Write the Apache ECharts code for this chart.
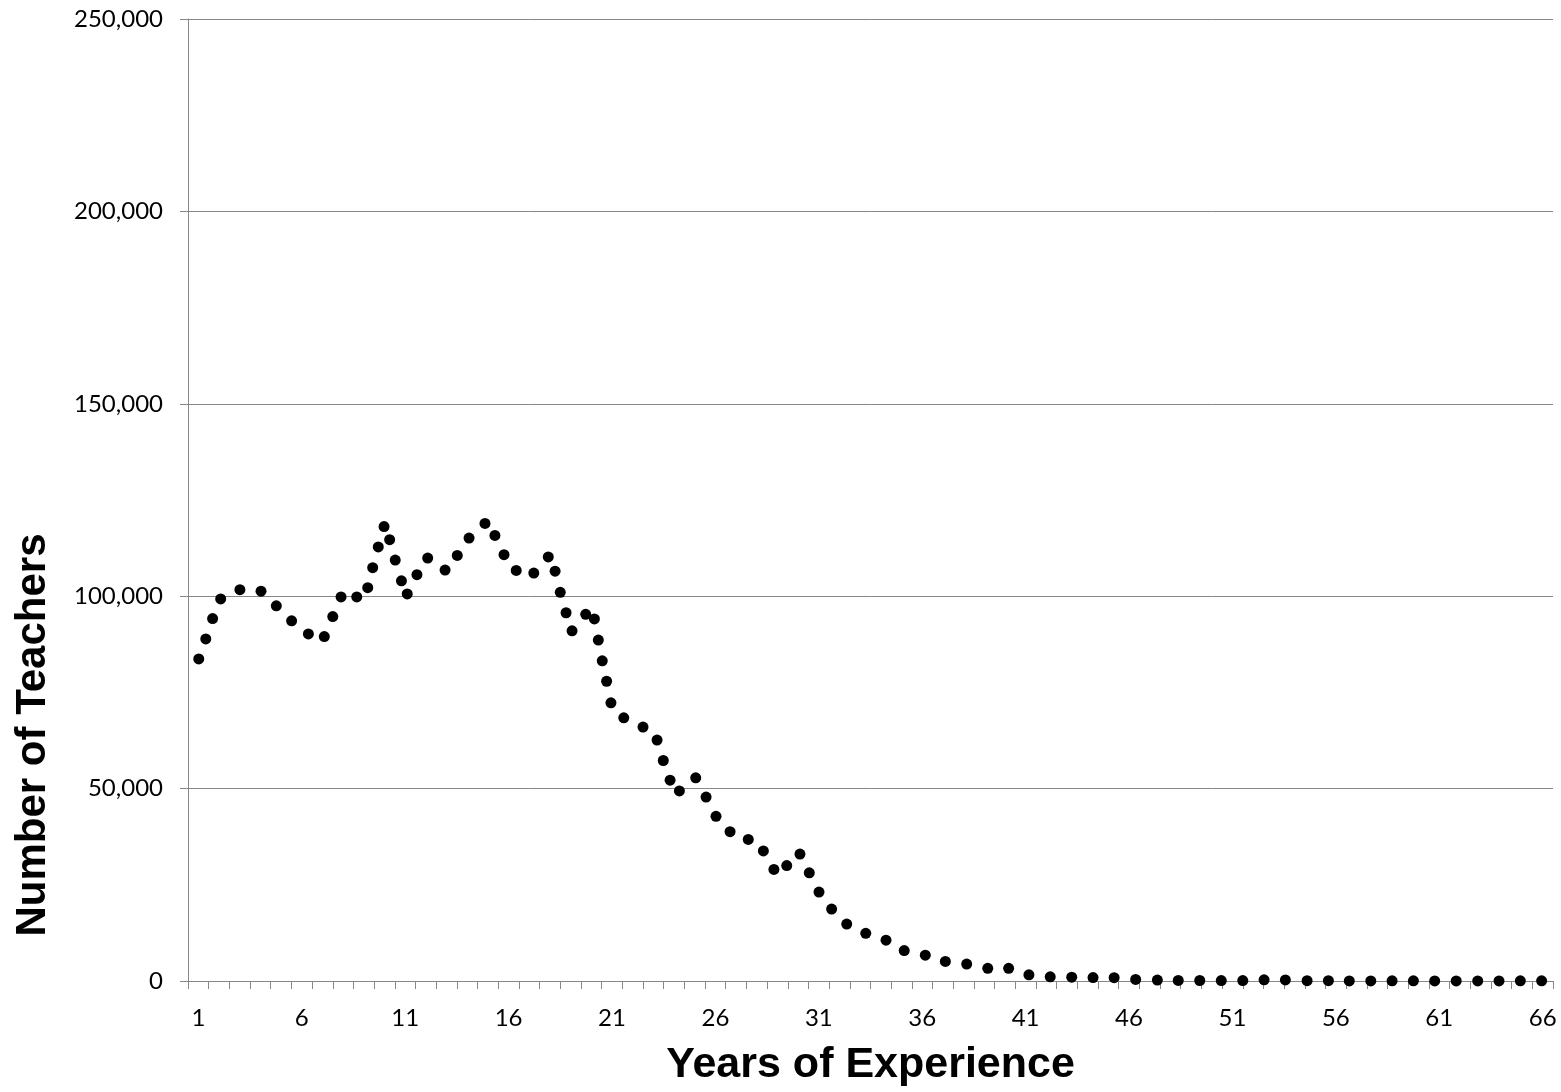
<!DOCTYPE html>
<html>
<head>
<meta charset="utf-8">
<script src="https://cdn.jsdelivr.net/npm/echarts@6/dist/echarts.min.js"></script>
<style>
html,body{margin:0;padding:0;background:#fff;}
#chart{width:1561px;height:1092px;}
</style>
</head>
<body>
<div id="chart"></div>
<script>
// Category tick labels (years of experience)
var yearCategories = ['1','2','3','4','5','6','7','8','9','10','11','12','13','14','15','16','17','18','19','20',
  '21','22','23','24','25','26','27','28','29','30','31','32','33','34','35','36','37','38','39','40',
  '41','42','43','44','45','46','47','48','49','50','51','52','53','54','55','56','57','58','59','60',
  '61','62','63','64','65','66'];

// Horizontal positions of the points (in category units)
var pointYears = [1.02,1.36,1.69,2.08,3.01,4.03,4.77,5.51,6.32,7.09,7.50,7.90,8.66,9.19,9.43,9.70,9.98,10.25,10.52,10.82,
  11.10,11.57,12.09,12.93,13.52,14.09,14.86,15.34,15.78,16.37,17.22,17.92,18.25,18.50,18.78,19.07,19.73,20.15,20.34,20.53,
  20.74,20.95,21.57,22.50,23.18,23.48,23.81,24.26,25.05,25.55,26.03,26.71,27.59,28.32,28.83,29.45,30.09,30.54,31.01,31.62,
  32.35,33.27,34.25,35.13,36.15,37.12,38.15,39.17,40.18,41.16,42.19,43.23,44.26,45.28,46.32,47.37,48.38,49.42,50.46,51.50,
  52.53,53.56,54.61,55.64,56.65,57.69,58.72,59.75,60.78,61.82,62.86,63.89,64.92,65.95];

// Number of teachers
var teacherCounts = [83700,88900,94200,99300,101700,101300,97500,93600,90200,89500,94700,99800,99800,102200,107400,112800,118100,114700,109400,104000,
  100600,105600,109900,106800,110600,115100,118900,115800,110800,106700,106000,110200,106500,101000,95700,91000,95300,94100,88600,83200,
  77900,72300,68400,66000,62600,57300,52200,49400,52800,47800,42800,38800,36800,33800,29000,30000,33000,28100,23100,18700,
  14800,12400,10600,7900,6700,5100,4400,3300,3300,1600,1100,1000,900,850,400,250,150,130,110,100,
  300,280,90,70,30,25,60,40,20,30,15,10,40,50];

var yTicks = [0, 50000, 100000, 150000, 200000, 250000];

var points = pointYears.map(function (x, i) { return [x, teacherCounts[i]]; });

var chart = echarts.init(document.getElementById('chart'), null, {renderer: 'canvas'});
var grey = '#878787';
var labelFont = 'Lato, "Open Sans", sans-serif';
var titleFont = '"Liberation Sans", Arial, sans-serif';

chart.setOption({
  animation: false,
  backgroundColor: '#ffffff',
  grid: {left: 188, top: 19, width: 1365, height: 965, containLabel: false},
  xAxis: [{
    type: 'category',
    data: yearCategories,
    boundaryGap: true,
    axisLine: {show: true, lineStyle: {color: grey, width: 1}},
    axisTick: {show: true, interval: 0, length: 8, lineStyle: {color: grey}},
    axisLabel: {interval: 4, margin: 25, color: '#000', fontSize: 24, fontFamily: labelFont},
    splitLine: {show: false},
    name: 'Years of Experience',
    nameLocation: 'middle',
    nameGap: 63,
    nameTextStyle: {fontSize: 43, fontWeight: 'bold', color: '#000', fontFamily: titleFont}
  }, {
    type: 'value',
    min: 0.5,
    max: 66.5,
    show: false
  }],
  yAxis: {
    type: 'value',
    min: yTicks[0],
    max: yTicks[yTicks.length - 1],
    interval: 50000,
    axisLine: {show: true, lineStyle: {color: grey, width: 1}},
    axisTick: {show: true, length: 8, lineStyle: {color: grey}},
    axisLabel: {
      margin: 25, color: '#000', fontSize: 24, fontFamily: labelFont,
      formatter: function (v) { return v.toLocaleString('en-US'); }
    },
    splitLine: {show: true, lineStyle: {color: grey, width: 1}}
  },
  graphic: [{
    type: 'text',
    x: 33,
    y: 735,
    rotation: Math.PI / 2,
    style: {
      text: 'Number of Teachers',
      fontSize: 42,
      fontWeight: 'bold',
      fontFamily: titleFont,
      fill: '#000',
      align: 'center',
      verticalAlign: 'middle'
    }
  }],
  series: [{
    type: 'scatter',
    xAxisIndex: 1,
    yAxisIndex: 0,
    data: points,
    symbol: 'circle',
    symbolSize: 11,
    itemStyle: {color: '#000', opacity: 1},
    z: 5
  }]
});
</script>
</body>
</html>
